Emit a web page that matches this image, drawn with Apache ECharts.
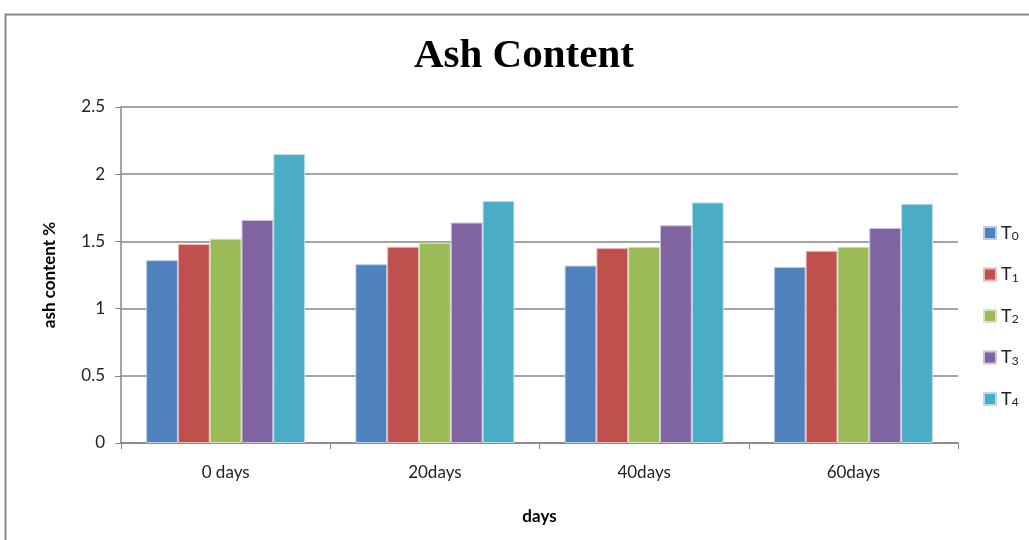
<!DOCTYPE html>
<html>
<head>
<meta charset="utf-8">
<script src="https://cdn.jsdelivr.net/npm/echarts@6/dist/echarts.min.js"></script>
<style>
  html, body { margin: 0; padding: 0; background: #fff; }
  #chart { width: 1029px; height: 540px; }
</style>
</head>
<body>
<div id="chart"></div>
<script>
// Ash content (%) of each treatment over storage time
const categories = ['0 days', '20days', '40days', '60days'];
const seriesNames = ['T0', 'T1', 'T2', 'T3', 'T4'];
const T0 = [1.36, 1.33, 1.32, 1.31];
const T1 = [1.48, 1.46, 1.45, 1.43];
const T2 = [1.52, 1.49, 1.46, 1.46];
const T3 = [1.66, 1.64, 1.62, 1.60];
const T4 = [2.15, 1.80, 1.79, 1.78];
const yTicks = [0, 0.5, 1, 1.5, 2, 2.5];

const colors = ['#4F81BD', '#C0504D', '#9BBB59', '#8064A2', '#4BACC6'];
const borders = ['#b9cde5', '#e6b9b8', '#d7e4bd', '#ccc1da', '#b7dee8'];
const values = [T0, T1, T2, T3, T4];

const chart = echarts.init(document.getElementById('chart'));
const sans = 'Lato, "Noto Sans", sans-serif';

chart.setOption({
  animation: false,
  backgroundColor: '#fff',
  graphic: [{
    type: 'rect',
    left: 3, top: 12,
    shape: { width: 1060, height: 560 },
    style: { fill: 'none', stroke: '#8a8a8a', lineWidth: 2 },
    silent: true
  }],
  title: {
    text: 'Ash Content',
    left: 409,
    top: 31,
    textStyle: {
      fontFamily: '"Liberation Serif", "Times New Roman", serif',
      fontWeight: 'bold',
      fontSize: 41,
      color: '#000'
    }
  },
  legend: {
    orient: 'vertical',
    left: 978,
    top: 219,
    itemWidth: 12,
    itemHeight: 12,
    itemGap: 23,
    icon: 'rect',
    data: seriesNames,
    formatter: function (name) {
      return '{t|T}{s|' + name.slice(1) + '}';
    },
    textStyle: {
      rich: {
        t: { fontFamily: sans, fontSize: 18, color: '#222' },
        s: { fontFamily: sans, fontSize: 12, color: '#222', verticalAlign: 'bottom', padding: [7, 0, 0, 0] }
      }
    }
  },
  grid: { left: 121, right: 71, top: 107, bottom: 97 },
  xAxis: {
    type: 'category',
    data: categories,
    name: 'days',
    nameLocation: 'middle',
    nameGap: 65,
    nameTextStyle: { fontFamily: sans, fontWeight: 'bold', fontSize: 17, color: '#000' },
    axisLine: { lineStyle: { color: '#868686', width: 1.5 } },
    axisTick: { show: true, length: 6, lineStyle: { color: '#868686' } },
    axisLabel: { fontFamily: sans, fontSize: 17, color: '#222', margin: 21 }
  },
  yAxis: {
    type: 'value',
    min: yTicks[0],
    max: yTicks[yTicks.length - 1],
    interval: yTicks[1] - yTicks[0],
    name: 'ash content %',
    nameLocation: 'middle',
    nameGap: 63,
    nameTextStyle: { fontFamily: sans, fontWeight: 'bold', fontSize: 17, color: '#000' },
    axisLine: { show: true, lineStyle: { color: '#868686', width: 1.5 } },
    axisTick: { show: true, length: 6, lineStyle: { color: '#868686' } },
    axisLabel: { fontFamily: sans, fontSize: 17, color: '#222', margin: 16 },
    splitLine: { lineStyle: { color: '#868686', width: 1.5 } }
  },
  series: seriesNames.map(function (name, i) {
    return {
      name: name,
      type: 'bar',
      data: values[i],
      barGap: '0%',
      barCategoryGap: '24%',
      itemStyle: { color: colors[i], borderColor: borders[i], borderWidth: 1 }
    };
  })
});
</script>
</body>
</html>
